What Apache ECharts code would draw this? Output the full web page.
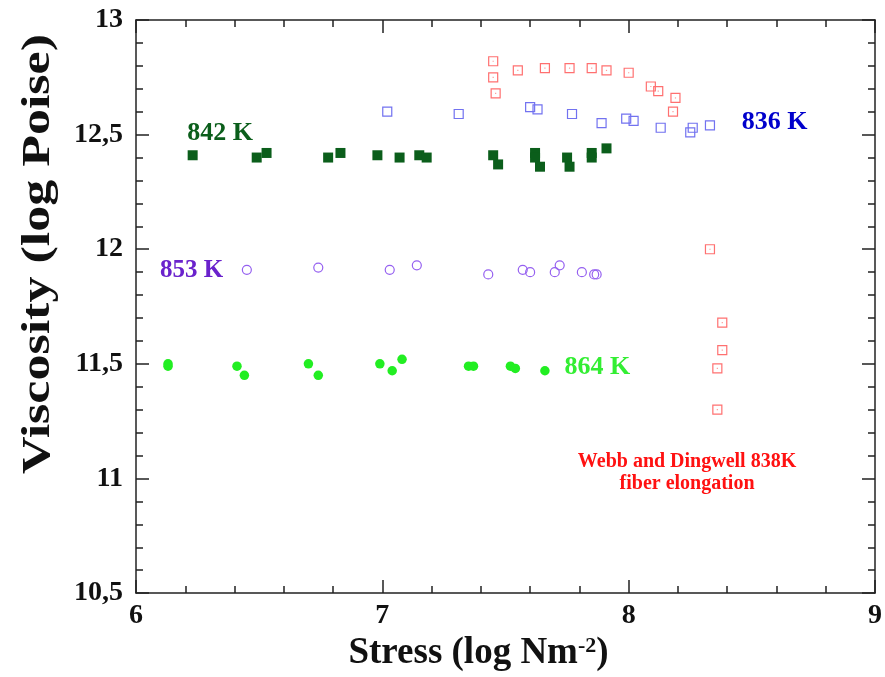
<!DOCTYPE html>
<html>
<head>
<meta charset="utf-8">
<script src="https://cdn.jsdelivr.net/npm/echarts@6/dist/echarts.min.js"></script>
<style>html,body{margin:0;padding:0;background:#fff}#c{width:885px;height:677px}</style>
</head>
<body>
<div id="c"></div>
<script>
// ---- data ----
const xTicks = [6, 7, 8, 9];
const yTickLabels = {'10.5':'10,5','11':'11','11.5':'11,5','12':'12','12.5':'12,5','13':'13'};
const xTitle = 'Stress (log Nm{sup|-2})';
const yTitle = 'Viscosity (log Poise)';

const s842x = [6.23,6.49,6.53,6.78,6.83,6.98,7.07,7.15,7.18,7.45,7.47,7.62,7.62,7.64,7.75,7.76,7.85,7.85,7.91];
const s842y = [12.41,12.40,12.42,12.40,12.42,12.41,12.40,12.41,12.40,12.41,12.37,12.42,12.40,12.36,12.40,12.36,12.42,12.40,12.44];

const s836x = [7.02,7.31,7.60,7.63,7.77,7.89,7.99,8.02,8.13,8.25,8.26,8.33];
const s836y = [12.60,12.59,12.62,12.61,12.59,12.55,12.57,12.56,12.53,12.51,12.53,12.54];

const webbX = [7.45,7.45,7.46,7.55,7.66,7.76,7.85,7.91,8.00,8.09,8.12,8.19,8.18,8.33,8.38,8.38,8.36,8.36];
const webbY = [12.82,12.75,12.68,12.78,12.79,12.79,12.79,12.78,12.77,12.71,12.69,12.66,12.60,12.00,11.68,11.56,11.48,11.30];

const s853x = [6.45,6.74,7.03,7.14,7.43,7.57,7.60,7.70,7.72,7.81,7.86,7.87];
const s853y = [11.91,11.92,11.91,11.93,11.89,11.91,11.90,11.90,11.93,11.90,11.89,11.89];

const s864x = [6.13,6.13,6.41,6.44,6.70,6.74,6.99,7.04,7.08,7.35,7.37,7.52,7.54,7.66];
const s864y = [11.50,11.49,11.49,11.45,11.50,11.45,11.50,11.47,11.52,11.49,11.49,11.49,11.48,11.47];

const labelTexts = ['842 K','836 K','853 K','864 K','Webb and Dingwell 838K\nfiber elongation'];
const labelX = [6.341, 8.592, 6.226, 7.873, 8.237];
const labelY = [12.507, 12.555, 11.907, 11.486, 11.025];

// ---- chart ----
const FONT = '"Liberation Serif","Times New Roman",serif';
const zip = (a, b) => a.map((v, i) => [v, b[i]]);
const labelColors = ['#0b5e1b','#0000cc','#6a22cc','#33ee33','#ff1111'];
const labelSizes = [26, 26, 25, 26, 20];

const axisLine = {show: true, onZero: false, lineStyle: {color: '#222', width: 1.5}};
function xAx(pos, showLabel) {
  return {
    type: 'value', min: 6, max: 9, interval: 1, position: pos,
    axisLine: axisLine,
    axisTick: {show: true, inside: true, length: 13, lineStyle: {color: '#222', width: 1.5}},
    minorTick: {show: true, splitNumber: 5, length: 7, lineStyle: {color: '#222', width: 1.5}},
    splitLine: {show: false},
    axisLabel: {show: showLabel, margin: 9, fontFamily: FONT, fontWeight: 'bold', fontSize: 28, color: '#111',
      formatter: v => xTicks.includes(v) ? String(v) : ''},
    name: showLabel ? xTitle : '',
    nameLocation: 'middle', nameGap: 29,
    nameTextStyle: {fontFamily: FONT, fontWeight: 'bold', fontSize: 37, color: '#111', padding: [0, 54, 0, 0],
      rich: {sup: {fontFamily: FONT, fontWeight: 'bold', fontSize: 22, color: '#111', verticalAlign: 'top', padding: [0,0,14,0]}}}
  };
}
function yAx(pos, showLabel) {
  return {
    type: 'value', min: 10.5, max: 13, interval: 0.5, position: pos,
    axisLine: axisLine,
    axisTick: {show: true, inside: true, length: 13, lineStyle: {color: '#222', width: 1.5}},
    minorTick: {show: true, splitNumber: 5, length: 7, lineStyle: {color: '#222', width: 1.5}},
    splitLine: {show: false},
    axisLabel: {show: showLabel, margin: 13, fontFamily: FONT, fontWeight: 'bold', fontSize: 28, color: '#111',
      formatter: v => yTickLabels[String(v)] || ''}
  };
}

const chart = echarts.init(document.getElementById('c'), null, {renderer: 'canvas'});
chart.setOption({
  animation: false,
  backgroundColor: '#fff',
  grid: {left: 136, right: 6, top: 20, bottom: 82, containLabel: false},
  xAxis: [xAx('bottom', true), xAx('top', false)],
  yAxis: [yAx('left', true), yAx('right', false)],
  graphic: [{
    type: 'text', x: 39, y: 254, rotation: Math.PI / 2, scaleX: 1.3, scaleY: 1,
    style: {text: yTitle, fontFamily: FONT, fontWeight: 'bold', fontSize: 40, fill: '#111',
      align: 'center', verticalAlign: 'middle'}
  }],
  series: [
    {type: 'scatter', name: '836 K', data: zip(s836x, s836y), symbol: 'rect', symbolSize: 9,
      itemStyle: {opacity: 1, color: 'rgba(255,255,255,0)', borderColor: '#7272f0', borderWidth: 1.2}},
    {type: 'scatter', name: 'Webb and Dingwell 838K', data: zip(webbX, webbY), symbol: 'rect', symbolSize: 9,
      itemStyle: {opacity: 1, color: 'rgba(255,255,255,0)', borderColor: '#ff7070', borderWidth: 1.2}},
    {type: 'scatter', name: 'Webb dot', data: zip(webbX, webbY), symbol: 'rect', symbolSize: 1.2,
      itemStyle: {opacity: 1, color: '#ff9a9a'}},
    {type: 'scatter', name: '842 K', data: zip(s842x, s842y), symbol: 'rect', symbolSize: 10,
      itemStyle: {opacity: 1, color: '#0b5e1b'}},
    {type: 'scatter', name: '853 K', data: zip(s853x, s853y), symbol: 'circle', symbolSize: 9,
      itemStyle: {opacity: 1, color: 'rgba(255,255,255,0)', borderColor: '#9560f0', borderWidth: 1.2}},
    {type: 'scatter', name: '864 K', data: zip(s864x, s864y), symbol: 'circle', symbolSize: 9.5,
      itemStyle: {opacity: 1, color: '#22ee22'}},
    {type: 'scatter', name: 'labels', symbolSize: 0, silent: true, itemStyle: {opacity: 1},
      data: labelTexts.map((t, i) => ({
        value: [labelX[i], labelY[i]],
        label: {show: true, position: 'inside', formatter: t, color: labelColors[i], fontSize: labelSizes[i],
          fontFamily: FONT, fontWeight: 'bold', align: 'center', verticalAlign: 'middle', lineHeight: labelSizes[i] + 2}
      }))}
  ]
});
</script>
</body>
</html>
